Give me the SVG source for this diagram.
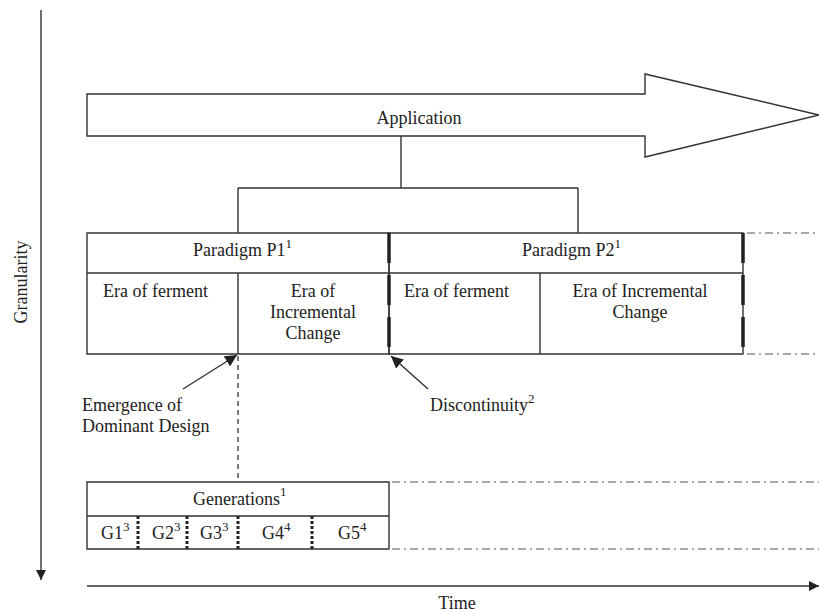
<svg xmlns="http://www.w3.org/2000/svg" width="819" height="613" viewBox="0 0 819 613">
<defs>
<style>
text{font-family:"Liberation Serif","Times New Roman",serif;font-size:18px;fill:#222}
.sup{font-size:13px}
.ln{stroke:#333;stroke-width:1.4;fill:none}
.thick{stroke:#222;stroke-width:3.5;fill:none;stroke-dasharray:30 12}
.dot{stroke:#222;stroke-width:3;fill:none;stroke-dasharray:3 2}
.dd{stroke:#555;stroke-width:1.2;fill:none;stroke-dasharray:8 4 2 4}
.dash{stroke:#333;stroke-width:1.3;fill:none;stroke-dasharray:5 4}
</style>
<marker id="ah" viewBox="0 0 10 10" refX="10" refY="5" markerWidth="10" markerHeight="10" markerUnits="userSpaceOnUse" orient="auto">
<path d="M0,0 L10,5 L0,10 z" fill="#222"/>
</marker>
<marker id="ah2" viewBox="0 0 10 10" refX="10" refY="5" markerWidth="12" markerHeight="12" markerUnits="userSpaceOnUse" orient="auto">
<path d="M0,0 L10,5 L0,10 z" fill="#222"/>
</marker>
</defs>
<rect width="819" height="613" fill="#fff"/>

<g id="axes">
<line class="ln" x1="41" y1="10" x2="41" y2="580" marker-end="url(#ah)"/>
<text transform="translate(27,282) rotate(-90)" text-anchor="middle">Granularity</text>
<line class="ln" x1="87" y1="586" x2="819" y2="586" stroke-width="2" marker-end="url(#ah)"/>
<text x="457" y="609" text-anchor="middle">Time</text>
</g>

<g id="application">
<path class="ln" d="M87,94 L645,94 L645,74 L819,115 L645,157 L645,136 L87,136 Z"/>
<text x="419" y="124" text-anchor="middle">Application</text>
</g>

<g id="connectors">
<path class="ln" d="M401,136 L401,188 M238,188 L578,188 M238,188 L238,233 M578,188 L578,233"/>
<line class="dash" x1="238" y1="356" x2="238" y2="482"/>
<line class="ln" x1="183" y1="389" x2="237" y2="355" marker-end="url(#ah2)"/>
<line class="ln" x1="428" y1="389" x2="391" y2="356" marker-end="url(#ah2)"/>
<path class="dd" d="M747,233 L819,233 M747,354 L819,354 M392,482 L819,482 M392,549 L819,549"/>
</g>

<g id="paradigm-p1">
<path class="ln" d="M87,233 L389,233 L389,354 L87,354 Z M87,273 L389,273 M238,273 L238,354"/>
<text x="193" y="256">Paradigm P1<tspan class="sup" dy="-8">1</tspan></text>
<text x="103" y="297">Era of ferment</text>
<text x="313" y="297" text-anchor="middle">Era of</text>
<text x="313" y="318" text-anchor="middle">Incremental</text>
<text x="313" y="339" text-anchor="middle">Change</text>
</g>

<g id="paradigm-p2">
<path class="ln" d="M389,233 L743,233 L743,354 L389,354 Z M389,273 L743,273 M540,273 L540,354"/>
<text x="522" y="256">Paradigm P2<tspan class="sup" dy="-8">1</tspan></text>
<text x="404" y="297">Era of ferment</text>
<text x="640" y="297" text-anchor="middle">Era of Incremental</text>
<text x="640" y="318" text-anchor="middle">Change</text>
</g>

<g id="discontinuities">
<line class="thick" x1="389" y1="233" x2="389" y2="354"/>
<line class="thick" x1="743" y1="233" x2="743" y2="354"/>
</g>

<g id="labels">
<text x="82" y="411">Emergence of</text>
<text x="82" y="432">Dominant Design</text>
<text x="430" y="411">Discontinuity<tspan class="sup" dy="-8">2</tspan></text>
</g>

<g id="generations">
<path class="ln" d="M87,482 L389,482 L389,549 L87,549 Z M87,516 L389,516"/>
<text x="193" y="505">Generations<tspan class="sup" dy="-9">1</tspan></text>
<path class="dot" d="M138,516 L138,549 M187,516 L187,549 M238,516 L238,549 M312,516 L312,549"/>
<text x="101" y="539">G1<tspan class="sup" dy="-8">3</tspan></text>
<text x="152" y="539">G2<tspan class="sup" dy="-8">3</tspan></text>
<text x="200" y="539">G3<tspan class="sup" dy="-8">3</tspan></text>
<text x="262" y="539">G4<tspan class="sup" dy="-8">4</tspan></text>
<text x="338" y="539">G5<tspan class="sup" dy="-8">4</tspan></text>
</g>
</svg>
